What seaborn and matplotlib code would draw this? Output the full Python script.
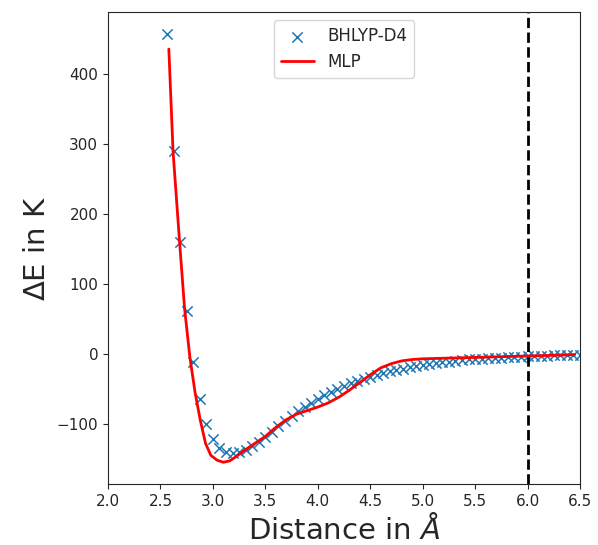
import numpy as np
import pandas as pd
import matplotlib
matplotlib.use("Agg")
import matplotlib.pyplot as plt
import seaborn as sns

# reference data (BHLYP-D4)
dft_dist = [2.5625, 2.625, 2.6875, 2.75, 2.8125, 2.875, 2.9375, 3.0, 3.0625, 3.125,
            3.1875, 3.25, 3.3125, 3.375, 3.4375, 3.5, 3.5625, 3.625, 3.6875, 3.75,
            3.8125, 3.875, 3.9375, 4.0, 4.0625, 4.125, 4.1875, 4.25, 4.3125, 4.375,
            4.4375, 4.5, 4.5625, 4.625, 4.6875, 4.75, 4.8125, 4.875, 4.9375, 5.0,
            5.0625, 5.125, 5.1875, 5.25, 5.3125, 5.375, 5.4375, 5.5, 5.5625, 5.625,
            5.6875, 5.75, 5.8125, 5.875, 5.9375, 6.0, 6.0625, 6.125, 6.1875, 6.25,
            6.3125, 6.375, 6.4375, 6.5]
dft_energy = [457, 290, 160, 62, -12, -64, -100, -122, -134, -140,
              -142, -141, -137, -132, -126, -119, -111, -103, -96, -89,
              -82, -76, -70, -64, -59, -54, -50, -46, -42, -39,
              -36, -33, -30, -27, -25, -23, -21, -19, -17, -16,
              -14, -13, -12, -11, -10, -9, -8, -7.5, -7, -6.5,
              -6, -5.5, -5, -4.5, -4, -3.5, -3, -2.8, -2.5, -2.2,
              -2, -1.7, -1.4, -1.2]

# MLP prediction
mlp_dist = [2.58, 2.62, 2.68, 2.73, 2.78, 2.83, 2.88, 2.93, 2.98, 3.04,
            3.10, 3.16, 3.22, 3.30, 3.40, 3.50, 3.60, 3.70, 3.80, 3.90,
            4.00, 4.10, 4.20, 4.30, 4.40, 4.50, 4.60, 4.70, 4.80, 4.90,
            5.00, 5.25, 5.50, 5.75, 6.00, 6.25, 6.45]
mlp_energy = [436, 290, 165, 65, -4, -55, -95, -128, -145, -152,
              -155, -153, -147, -138, -128, -118, -105, -94, -86, -81,
              -76, -70, -62, -52, -41, -30, -20, -14, -10, -8,
              -7, -6, -5, -4, -3, -2, -1]

cutoff = 6.0

sns.set_style("ticks")
fig = plt.figure(figsize=(5.98, 5.45), dpi=100)
ax = fig.add_axes([0.1806, 0.112, 0.7893, 0.866])

sns.scatterplot(x=dft_dist, y=dft_energy, marker="x", s=55, linewidth=1.1,
                color="#1f77b4", label="BHLYP-D4", ax=ax, zorder=2)
sns.lineplot(x=mlp_dist, y=mlp_energy, color="red", linewidth=2,
             label="MLP", ax=ax, zorder=3, sort=False)
ax.axvline(cutoff, color="black", linestyle="--", linewidth=2)

ax.set_xlim(2.0, 6.5)
ax.set_ylim(-186, 489)
ax.set_xticks(np.arange(2.0, 6.51, 0.5))
ax.set_yticks([-100, 0, 100, 200, 300, 400])
ax.tick_params(labelsize=11)
ax.set_xlabel(r"Distance in $\AA$", fontsize=21)
ax.set_ylabel(r"$\Delta$E in K", fontsize=21)
ax.legend(loc="upper center", fontsize=12)

fig.savefig("out.png", dpi=100)
